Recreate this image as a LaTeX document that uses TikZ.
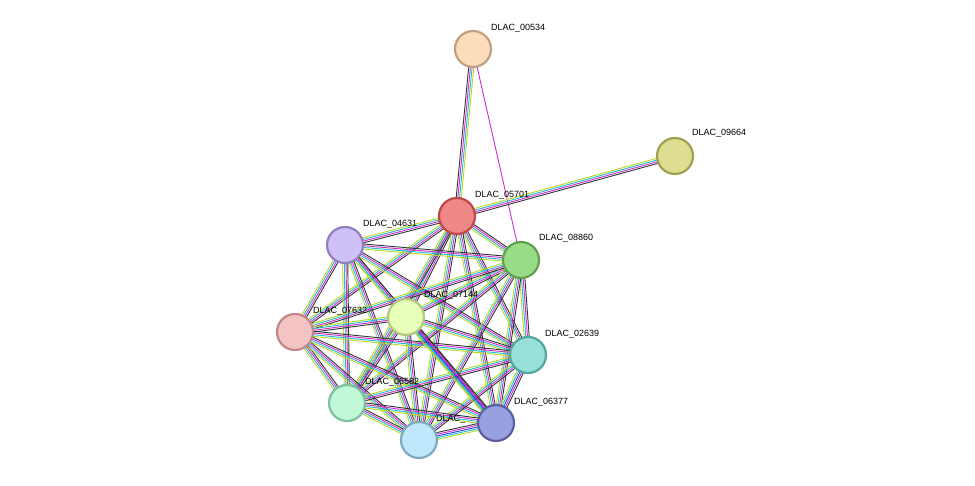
\documentclass[tikz,border=0pt]{standalone}
\usepackage{fontspec}
\setmainfont{Liberation Sans}
\usetikzlibrary{calc}
\definecolor{colk}{HTML}{333333}
\definecolor{colm}{HTML}{D02BD0}
\definecolor{colc}{HTML}{22B8D8}
\definecolor{coly}{HTML}{B8D820}
\definecolor{colb}{HTML}{3040E0}
\newcommand\bund[4]{\foreach \c [count=\i] in {#4}{%
  \pgfmathsetmacro\o{(\i-(#3+1)/2)*1.7}%
  \draw[edge,draw=\c] ($(#1)!\o pt!90:(#2)$) -- ($(#2)!\o pt!-90:(#1)$);}}
\begin{document}
\begin{tikzpicture}[x=1pt,y=-1pt,
  edge/.style={line width=0.9pt},
  prot/.style={circle,minimum size=36pt,inner sep=0pt,line width=2.2pt},
  lab/.style={font=\fontsize{9}{10}\selectfont,anchor=west,inner sep=1pt}]
\useasboundingbox (0,0) rectangle (975,486);
\coordinate (p00534) at (473,49);
\coordinate (p09664) at (675,156);
\coordinate (p05701) at (457,216);
\coordinate (p04631) at (345,245);
\coordinate (p08860) at (521,260);
\coordinate (p07144) at (406,317);
\coordinate (p07632) at (295,332);
\coordinate (p02639) at (528,355);
\coordinate (p06582) at (347,403);
\coordinate (pbot) at (419,440);
\coordinate (p06377) at (496,423);
% edges
\bund{p00534}{p05701}{4}{colk,colm,colc,coly}
\draw[edge,draw=colm] (p00534) -- (p08860);
\bund{p09664}{p05701}{4}{coly,colc,colm,colk}
\foreach \a/\b in {p05701/p04631,p05701/p08860,p05701/p07144,p05701/p07632,p05701/p02639,p05701/p06582,p05701/pbot,p05701/p06377,
 p04631/p08860,p04631/p07144,p04631/p07632,p04631/p02639,p04631/p06582,p04631/pbot,p04631/p06377,
 p08860/p07144,p08860/p07632,p08860/p02639,p08860/p06582,p08860/pbot,p08860/p06377,
 p07144/p07632,p07144/p02639,p07144/p06582,p07144/pbot,
 p07632/p02639,p07632/p06582,p07632/pbot,p07632/p06377,
 p02639/p06582,p02639/pbot,
 p06582/pbot,p06582/p06377}{\bund{\a}{\b}{4}{coly,colc,colm,colk}}
\bund{p07144}{p06377}{5}{coly,colc,colb,colm,colk}
\bund{pbot}{p06377}{5}{coly,colc,colb,colm,colk}
\bund{p02639}{p06377}{5}{coly,colc,colb,colm,colk}
% nodes and labels
\node[prot,fill={rgb,255:red,253;green,220;blue,188},draw={rgb,255:red,192;green,160;blue,128}] (n00534) at (p00534) {};
\node[lab] (l00534) at (490,28) {DLAC\_00534};
\node[prot,fill={rgb,255:red,222;green,222;blue,144},draw={rgb,255:red,160;green,160;blue,80}] (n09664) at (p09664) {};
\node[lab] (l09664) at (691,133) {DLAC\_09664};
\node[prot,fill={rgb,255:red,240;green,136;blue,136},draw={rgb,255:red,192;green,72;blue,72}] (n05701) at (p05701) {};
\node[lab] (l05701) at (474,195) {DLAC\_05701};
\node[prot,fill={rgb,255:red,208;green,192;blue,248},draw={rgb,255:red,144;green,128;blue,192}] (n04631) at (p04631) {};
\node[lab] (l04631) at (362,224) {DLAC\_04631};
\node[prot,fill={rgb,255:red,152;green,220;blue,136},draw={rgb,255:red,96;green,160;blue,80}] (n08860) at (p08860) {};
\node[lab] (l08860) at (538,238) {DLAC\_08860};
\node[prot,fill={rgb,255:red,152;green,224;blue,216},draw={rgb,255:red,80;green,168;blue,160}] (n02639) at (p02639) {};
\node[lab] (l02639) at (544,334) {DLAC\_02639};
\node[prot,fill={rgb,255:red,244;green,196;blue,196},draw={rgb,255:red,192;green,136;blue,136}] (n07632) at (p07632) {};
\node[lab] (l07632) at (312,311) {DLAC\_07632};
\node[prot,fill={rgb,255:red,232;green,255;blue,184},draw={rgb,255:red,176;green,200;blue,128}] (n07144) at (p07144) {};
\node[lab] (l07144) at (423,295) {DLAC\_07144};
\node[prot,fill={rgb,255:red,192;green,248;blue,216},draw={rgb,255:red,128;green,192;blue,160}] (n06582) at (p06582) {};
\node[lab] (l06582) at (364,382) {DLAC\_06582};
\node[prot,fill={rgb,255:red,192;green,232;blue,252},draw={rgb,255:red,128;green,170;blue,192}] (nbot) at (pbot) {};
\node[lab] (lbot) at (435,419) {DLAC\_};
\node[prot,fill={rgb,255:red,152;green,160;blue,224},draw={rgb,255:red,88;green,96;blue,160}] (n06377) at (p06377) {};
\node[lab] (l06377) at (513,402) {DLAC\_06377};
\end{tikzpicture}
\end{document}
